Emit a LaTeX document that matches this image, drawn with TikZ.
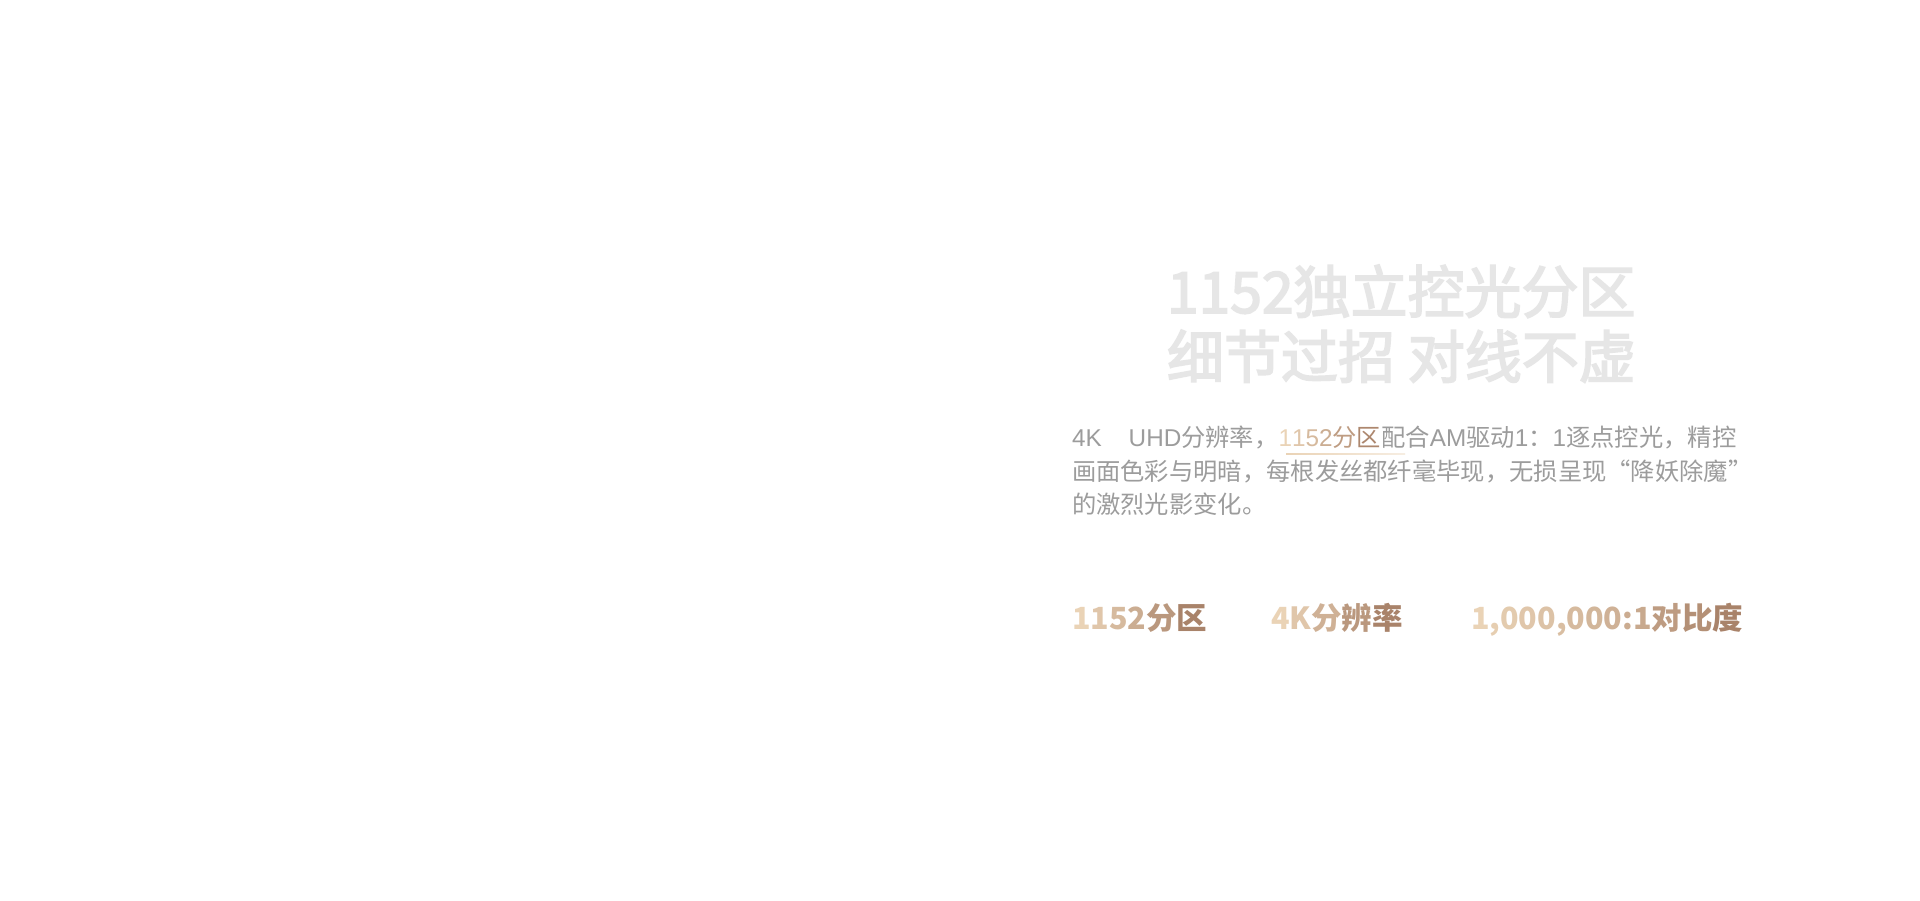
\documentclass[tikz,border=0pt]{standalone}
\usepackage{fontspec}
\setmainfont{Noto Sans CJK SC}
\newfontfamily\cjk{Noto Sans CJK SC}
\newfontfamily\cjkmed[FakeBold=3]{Noto Sans CJK SC}
\newfontfamily\lat{Liberation Sans}
\definecolor{titlegrey}{HTML}{E6E6E6}
\definecolor{bodygrey}{HTML}{9C9C9C}
\definecolor{gA}{HTML}{EAD3B6}
\definecolor{gB}{HTML}{A67F66}
\newcommand\gc[2]{\textcolor{gB!#1!gA}{#2}}
\tikzset{
  txt/.style={anchor=base west, inner sep=0pt, outer sep=0pt},
  titletxt/.style={txt, text=titlegrey, font=\cjkmed\fontsize{57}{57}\selectfont},
  bodytxt/.style={txt, text=bodygrey, font=\cjk\fontsize{24.3}{24.3}\selectfont},
  stattxt/.style={txt, font=\cjk\bfseries\fontsize{30.5}{30.5}\selectfont},
}
\begin{document}
\begin{tikzpicture}[x=1pt,y=-1pt]
\useasboundingbox[fill=white] (0,0) rectangle (1920,900);
% title
\node[titletxt] (t1) at (1167,313) {1152独立控光分区};
\node[titletxt] (t2) at (1167,378) {细节过招 对线不虚};
% paragraph
\node[bodytxt] (p1) at (1072,446) {{\lat 4K}\hspace{27pt}{\lat UHD}分辨率，{\lat\gc{0}{1}\gc{15}{1}\gc{30}{5}\gc{45}{2}}\gc{65}{分}\gc{90}{区}配合{\lat AM}驱动{\lat 1}：{\lat 1}逐点控光，精控};
\node[bodytxt] (p2) at (1072,480) {画面色彩与明暗，每根发丝都纤毫毕现，无损呈现“降妖除魔”};
\node[bodytxt] (p3) at (1072,513) {的激烈光影变化。};
\shade[left color=gA, right color=gA!40] (1286,453.6) rectangle (1405,454.8);
% stats
\node[stattxt] (s1) at (1072,629) {\gc{0}{1}\gc{15}{1}\gc{30}{5}\gc{45}{2}\gc{70}{分}\gc{95}{区}};
\node[stattxt] (s2) at (1271,629) {\gc{0}{4}\gc{15}{K}\gc{40}{分}\gc{70}{辨}\gc{95}{率}};
\node[stattxt] (s3) at (1471,629) {\gc{0}{1}\gc{6}{,}\gc{10}{0}\gc{15}{0}\gc{20}{0}\gc{25}{,}\gc{30}{0}\gc{35}{0}\gc{40}{0}\gc{46}{:}\gc{50}{1}\gc{65}{对}\gc{80}{比}\gc{95}{度}};
\end{tikzpicture}
\end{document}
